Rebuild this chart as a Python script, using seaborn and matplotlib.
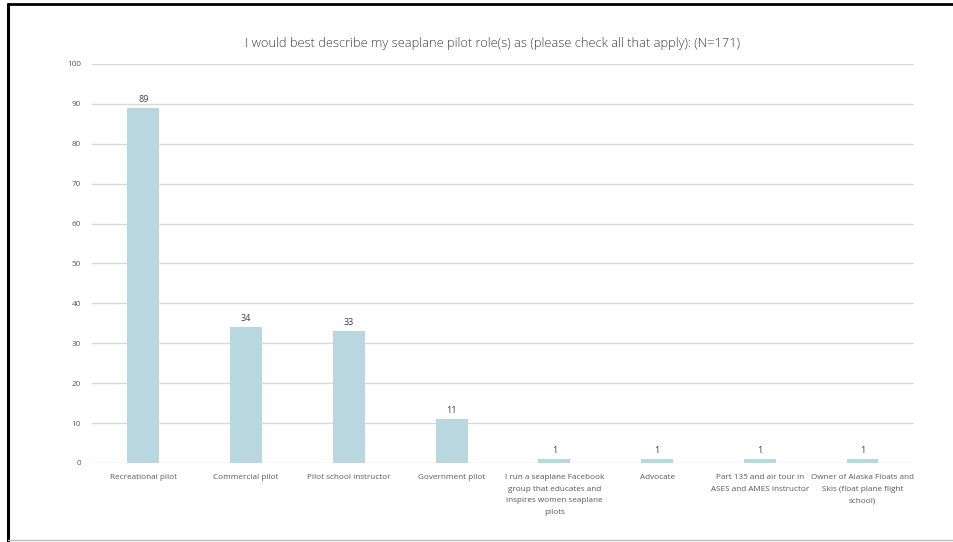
import matplotlib
matplotlib.use("Agg")
import matplotlib.pyplot as plt
from matplotlib.lines import Line2D
import seaborn as sns
import pandas as pd

categories = [
    "Recreational pilot",
    "Commercial pilot",
    "Pilot school instructor",
    "Government pilot",
    "I run a seaplane Facebook\ngroup that educates and\ninspires women seaplane\npilots",
    "Advocate",
    "Part 135 and air tour in\nASES and AMES instructor",
    "Owner of Alaska Floats and\nSkis (float plane flight\nschool)",
]
counts = [89, 34, 33, 11, 1, 1, 1, 1]
y_ticks = [0, 10, 20, 30, 40, 50, 60, 70, 80, 90, 100]
title = "I would best describe my seaplane pilot role(s) as (please check all that apply): (N=171)"

sns.set_theme(style="white")
plt.rcParams["font.family"] = ["Open Sans", "DejaVu Sans"]

text_color = "#595959"
bar_color = "#B9D7DE"
grid_color = "#D9D9D9"

df = pd.DataFrame({"role": categories, "count": counts})

fig = plt.figure(figsize=(9.54, 5.42), dpi=100)
ax = fig.add_axes([0.0964, 0.1458, 0.8616, 0.7362])

sns.barplot(data=df, x="role", y="count", color=bar_color, width=0.31,
            saturation=1, linewidth=0, edgecolor=bar_color, ax=ax, zorder=3)

ax.set_ylim(0, 100)
ax.set_xlim(-0.5, len(categories) - 0.5)
ax.set_yticks(y_ticks)
ax.set_yticklabels([str(t) for t in y_ticks])
for t in y_ticks:
    ax.axhline(t, color=grid_color, lw=1.0, zorder=1)

for s in ax.spines.values():
    s.set_visible(False)
ax.tick_params(axis="both", length=0, labelsize=5.9, colors=text_color)
ax.tick_params(axis="y", pad=8)
ax.tick_params(axis="x", pad=8)
for lbl in ax.get_xticklabels():
    lbl.set_linespacing(1.9)
ax.set_xlabel("")
ax.set_ylabel("")

for container in ax.containers:
    ax.bar_label(container, labels=[str(v) for v in counts], padding=3,
                 fontsize=6.5, color="#404040")

fig.text(493 / 954, 1 - 43 / 542, title, ha="center", va="center",
         fontsize=9.3, color="#404040", fontweight="light")

# frame around the figure
fig.add_artist(Line2D([8 / 954, 8 / 954], [0, 1 - 4 / 542], transform=fig.transFigure,
                      color="black", lw=2.2))
fig.add_artist(Line2D([8 / 954, 1], [1 - 4 / 542, 1 - 4 / 542], transform=fig.transFigure,
                      color="black", lw=2.0))
fig.add_artist(Line2D([8 / 954, 1], [2 / 542, 2 / 542], transform=fig.transFigure,
                      color="#BFBFBF", lw=1.0))

fig.savefig("out.png", dpi=100, facecolor="white")
